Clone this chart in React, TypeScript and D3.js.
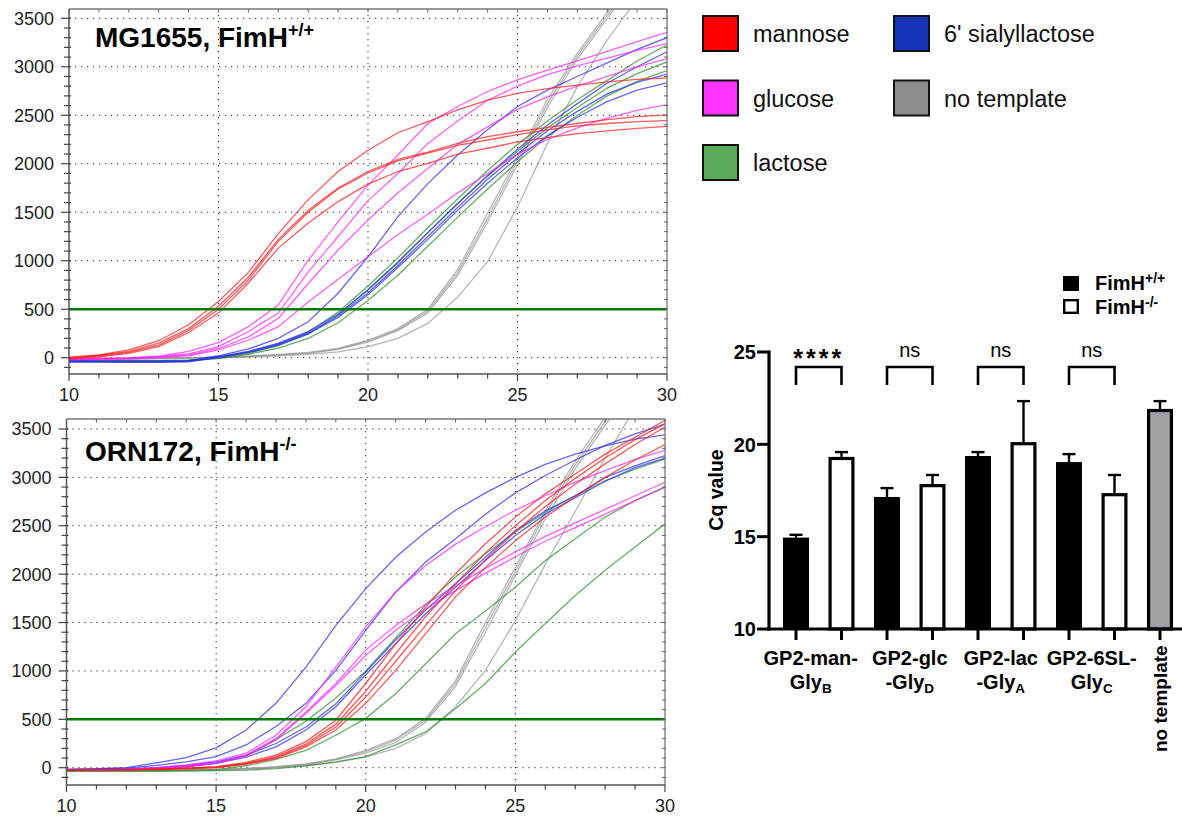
import React from "react";
import * as d3 from "d3";

// ---------- amplification data (RFU per cycle) ----------
const cycles = [10, 11, 12, 13, 14, 15, 16, 17, 18, 19, 20, 21, 22, 23, 24, 25, 26, 27, 28, 29, 30];
const rfuTicks = [0, 500, 1000, 1500, 2000, 2500, 3000, 3500];
const cycleTicks = [10, 15, 20, 25, 30];
const thresholdRfu = 500;

// MG1655, FimH+/+
const mgMannose = [
  [5, 30, 80, 175, 340, 580, 880, 1280, 1630, 1920, 2140, 2320, 2435, 2555, 2655, 2725, 2775, 2810, 2845, 2870, 2885],
  [0, 25, 65, 150, 300, 530, 830, 1220, 1520, 1750, 1920, 2045, 2120, 2210, 2280, 2330, 2375, 2415, 2455, 2485, 2505],
  [-10, 20, 55, 130, 280, 500, 800, 1200, 1500, 1740, 1905, 2030, 2110, 2190, 2245, 2300, 2350, 2390, 2415, 2435, 2445],
  [-15, 10, 45, 115, 260, 460, 770, 1130, 1390, 1610, 1790, 1920, 2005, 2100, 2160, 2225, 2270, 2310, 2340, 2365, 2385],
];
const mgGlucose = [
  [-10, -5, 0, 15, 65, 155, 320, 545, 1005, 1400, 1780, 2090, 2415, 2590, 2745, 2865, 2965, 3060, 3160, 3260, 3355],
  [-15, -10, -5, 10, 40, 115, 270, 460, 885, 1250, 1620, 1900, 2210, 2440, 2655, 2800, 2920, 3010, 3090, 3170, 3240],
  [-20, -15, -10, 5, 30, 95, 215, 405, 765, 1110, 1420, 1700, 1950, 2200, 2380, 2560, 2690, 2800, 2900, 3000, 3085],
  [-20, -15, -10, 0, 20, 80, 180, 320, 575, 810, 1040, 1270, 1480, 1700, 1900, 2100, 2250, 2370, 2470, 2550, 2610],
];
const mgSialyl = [
  [-30, -35, -35, -35, -30, 20, 90, 200, 370, 665, 1040, 1455, 1795, 2090, 2350, 2590, 2760, 2900, 3040, 3180, 3300],
  [-40, -40, -40, -40, -35, 10, 65, 150, 270, 450, 700, 980, 1290, 1590, 1880, 2150, 2400, 2620, 2830, 3000, 3155],
  [-40, -40, -45, -45, -40, 5, 60, 140, 255, 430, 670, 950, 1250, 1550, 1840, 2100, 2340, 2540, 2720, 2840, 2925],
  [-45, -45, -45, -45, -40, 0, 55, 130, 245, 415, 650, 930, 1220, 1520, 1800, 2060, 2290, 2480, 2640, 2760, 2835],
];
const mgLactose = [
  [-30, -30, -30, -30, -25, 0, 50, 140, 265, 470, 740, 1030, 1340, 1640, 1930, 2200, 2440, 2660, 2860, 3060, 3225],
  [-30, -30, -30, -30, -25, -5, 45, 125, 245, 440, 700, 990, 1290, 1590, 1870, 2130, 2370, 2580, 2780, 2930, 3050],
  [-35, -35, -35, -35, -30, -10, 35, 100, 200, 360, 590, 850, 1150, 1450, 1740, 2020, 2280, 2500, 2700, 2850, 2960],
];
const mgNoTemplate = [
  [-20, -15, -10, -5, 0, 5, 15, 35, 55, 95, 180, 300, 500, 910, 1490, 2070, 2660, 3140, 3560, 3950, 4300],
  [-20, -15, -10, -5, 0, 5, 15, 30, 50, 90, 170, 290, 480, 880, 1440, 2030, 2620, 3110, 3530, 3930, 4280],
  [-25, -20, -15, -10, -5, 0, 10, 25, 45, 85, 160, 280, 460, 850, 1400, 1990, 2580, 3080, 3500, 3900, 4250],
  [-25, -20, -15, -10, -5, 0, 5, 20, 35, 60, 113, 200, 354, 625, 990, 1555, 2210, 2795, 3275, 3700, 4050],
];

// ORN172, FimH-/-
const ornMannose = [
  [-20, -20, -20, -15, -5, 10, 55, 130, 270, 490, 870, 1280, 1660, 2005, 2315, 2590, 2830, 3035, 3240, 3415, 3590],
  [-20, -20, -20, -15, -5, 5, 45, 115, 245, 450, 790, 1180, 1560, 1900, 2220, 2500, 2760, 2990, 3200, 3390, 3555],
  [-25, -25, -20, -15, -10, 0, 40, 105, 230, 420, 730, 1100, 1470, 1830, 2150, 2440, 2700, 2930, 3140, 3340, 3520],
  [-25, -25, -25, -20, -10, 0, 35, 95, 215, 390, 665, 1005, 1385, 1765, 2070, 2345, 2590, 2800, 3000, 3180, 3340],
];
const ornGlucose = [
  [-20, -20, -15, 0, 30, 70, 150, 335, 630, 1040, 1455, 1815, 2090, 2310, 2490, 2660, 2810, 2950, 3070, 3185, 3280],
  [-25, -25, -20, -10, 15, 50, 130, 300, 575, 870, 1215, 1470, 1690, 1880, 2060, 2230, 2390, 2530, 2670, 2810, 2950],
  [-25, -25, -20, -10, 10, 45, 120, 290, 560, 850, 1160, 1420, 1640, 1830, 2010, 2180, 2340, 2480, 2620, 2760, 2895],
];
const ornSialyl = [
  [-15, -10, 0, 50, 105, 205, 390, 665, 1040, 1470, 1850, 2175, 2435, 2660, 2840, 3000, 3135, 3240, 3325, 3395, 3440],
  [-20, -15, -5, 25, 60, 115, 235, 425, 665, 1005, 1420, 1815, 2125, 2365, 2620, 2840, 3020, 3180, 3330, 3450, 3550],
  [-25, -20, -15, 0, 25, 60, 130, 250, 420, 660, 990, 1320, 1630, 1900, 2175, 2450, 2655, 2810, 3000, 3120, 3225],
  [-25, -20, -15, -5, 15, 45, 110, 215, 390, 630, 960, 1280, 1590, 1865, 2140, 2400, 2620, 2790, 2960, 3100, 3200],
];
const ornLactose = [
  [-30, -30, -25, -15, 10, 50, 125, 290, 480, 720, 1000, 1340, 1680, 1970, 2210, 2435, 2640, 2810, 2965, 3085, 3190],
  [-30, -30, -30, -30, -25, -20, 20, 85, 180, 335, 510, 765, 1075, 1385, 1620, 1865, 2140, 2365, 2590, 2760, 2905],
  [-35, -35, -35, -35, -35, -30, -25, -10, 20, 60, 115, 235, 370, 610, 870, 1195, 1490, 1780, 2040, 2280, 2520],
];
const ornNoTemplate = [
  [-30, -30, -30, -30, -25, -20, -10, 10, 40, 90, 180, 300, 510, 900, 1500, 2070, 2655, 3170, 3620, 4000, 4350],
  [-30, -30, -30, -30, -25, -20, -10, 5, 35, 85, 165, 285, 490, 870, 1450, 2030, 2620, 3130, 3580, 3970, 4300],
  [-30, -30, -30, -30, -25, -20, -10, 5, 30, 80, 150, 260, 470, 840, 1400, 1990, 2570, 3090, 3540, 3940, 4270],
  [-35, -35, -35, -35, -30, -25, -15, 0, 20, 55, 110, 200, 350, 630, 1005, 1520, 2100, 2650, 3200, 3720, 4150],
];

// ---------- legend ----------
const legendLabels = ["mannose", "glucose", "lactose", "6' sialyllactose", "no template"];
const legendSwatch = ["#ff0000", "#ff33ff", "#5aab5a", "#1733b8", "#8c8c8c"];
const curveColors = ["#ff1a1a", "#ff22ff", "#2e922e", "#2a2aff", "#9a9a9a"];

// ---------- Cq bar data ----------
const groupLine1 = ["GP2-man-", "GP2-glc", "GP2-lac", "GP2-6SL-"];
const groupLine2 = ["Gly", "-Gly", "-Gly", "Gly"];
const groupSub = ["B", "D", "A", "C"];
const cqFimHPos = [14.95, 17.15, 19.37, 19.04];
const cqFimHPosSd = [0.15, 0.48, 0.21, 0.43];
const cqFimHNeg = [19.32, 17.85, 20.12, 17.36];
const cqFimHNegSd = [0.26, 0.49, 2.22, 0.98];
const cqNoTemplate = 21.92;
const cqNoTemplateSd = 0.42;
const significance = ["****", "ns", "ns", "ns"];
const cqTicks = [10, 15, 20, 25];

const FONT = "'Liberation Sans', Arial, Helvetica, sans-serif";

type PlotProps = {
  left: number; right: number; top: number; bottom: number;
  zeroY: number; topTickY: number;
  title: string; sup: string; titleX: number; titleY: number;
  groups: number[][][]; clipId: string;
};

function AmpPlot(p: PlotProps) {
  const x = d3.scaleLinear().domain([10, 30]).range([p.left, p.right]);
  const y = d3.scaleLinear().domain([0, 3500]).range([p.zeroY, p.topTickY]);
  const line = d3.line<number>().x((_, i) => x(cycles[i])).y((d) => y(d));
  const minorY = d3.range(-100, 3501, 100);
  const minorX = d3.range(10, 31, 1);
  // drawing order: no template, lactose, sialyllactose, glucose, mannose
  const order = [4, 2, 3, 1, 0];
  return (
    <g fontFamily={FONT}>
      <defs>
        <clipPath id={p.clipId}>
          <rect x={p.left} y={p.top} width={p.right - p.left} height={p.bottom - p.top} />
        </clipPath>
      </defs>
      {/* dotted grid */}
      {rfuTicks.map((t) => (
        <line key={"h" + t} x1={p.left} x2={p.right} y1={y(t)} y2={y(t)}
          stroke="#222" strokeWidth={1} strokeDasharray="1.2,4.8" />
      ))}
      {[15, 20, 25].map((t) => (
        <line key={"v" + t} x1={x(t)} x2={x(t)} y1={p.top} y2={p.bottom}
          stroke="#222" strokeWidth={1} strokeDasharray="1.2,4.8" />
      ))}
      {/* curves */}
      <g clipPath={`url(#${p.clipId})`} fill="none">
        {order.map((gi) =>
          p.groups[gi].map((c, k) => (
            <path key={gi + "-" + k} d={line(c) || ""} stroke={curveColors[gi]}
              strokeWidth={1.3} strokeOpacity={0.72} />
          ))
        )}
      </g>
      {/* threshold */}
      <line x1={p.left} x2={p.right} y1={y(thresholdRfu)} y2={y(thresholdRfu)}
        stroke="#007a00" strokeWidth={2.6} />
      {/* frame */}
      <line x1={p.left} x2={p.right} y1={p.top} y2={p.top} stroke="#777" strokeWidth={1.3} />
      <line x1={p.right} x2={p.right} y1={p.top} y2={p.bottom} stroke="#777" strokeWidth={1.3} />
      <line x1={p.left} x2={p.left} y1={p.top} y2={p.bottom} stroke="#555" strokeWidth={1.5} />
      <line x1={p.left} x2={p.right} y1={p.bottom} y2={p.bottom} stroke="#555" strokeWidth={1.5} />
      {/* y ticks */}
      {minorY.map((v) => {
        const major = v % 500 === 0;
        return (
          <g key={"yt" + v}>
            <line x1={p.left - (major ? 8 : 5)} x2={p.left + 2} y1={y(v)} y2={y(v)} stroke="#444" strokeWidth={1.2} />
            <line x1={p.right - 3} x2={p.right + 1} y1={y(v)} y2={y(v)} stroke="#666" strokeWidth={1} />
          </g>
        );
      })}
      {/* x ticks */}
      {minorX.map((c) => {
        const major = c % 5 === 0;
        return (
          <g key={"xt" + c}>
            <line x1={x(c)} x2={x(c)} y1={p.bottom} y2={p.bottom + (major ? 7 : 4.5)} stroke="#444" strokeWidth={1.2} />
            <line x1={x(c)} x2={x(c)} y1={p.top} y2={p.top + 3.5} stroke="#666" strokeWidth={1} />
          </g>
        );
      })}
      {rfuTicks.map((t) => (
        <text key={"yl" + t} x={p.left - 15} y={y(t)} dy="0.36em" textAnchor="end"
          fontSize={18} fill="#222">{t}</text>
      ))}
      {cycleTicks.map((t) => (
        <text key={"xl" + t} x={x(t)} y={p.bottom + 27} textAnchor="middle"
          fontSize={18} fill="#222">{t}</text>
      ))}
      <text x={p.titleX} y={p.titleY} fontSize={28} fontWeight="bold" fill="#000">
        {p.title}
        <tspan fontSize={18} dy={-11}>{p.sup}</tspan>
      </text>
    </g>
  );
}

function Legend() {
  const rows = [0, 1, 2];
  return (
    <g fontFamily={FONT}>
      {legendLabels.map((lab, i) => {
        const col = i < 3 ? 0 : 1;
        const row = i < 3 ? rows[i] : rows[i - 3];
        const sx = col === 0 ? 703 : 894;
        const sy = 16 + row * 64.5;
        return (
          <g key={lab}>
            <rect x={sx} y={sy} width={35} height={35} fill={legendSwatch[i]} stroke="#111" strokeWidth={2} />
            <text x={sx + 50} y={sy + 26} fontSize={23.5} fill="#111">{lab}</text>
          </g>
        );
      })}
    </g>
  );
}

function CqBars() {
  const nBars = groupLine1.length * 2 + 1;
  const xB = d3.scalePoint<number>().domain(d3.range(nBars)).range([796, 1160]);
  const yB = d3.scaleLinear().domain([10, 25]).range([629, 352]);
  const axisY = yB(10);
  const bars = [
    ...groupLine1.flatMap((_, g) => [
      { i: 2 * g, mean: cqFimHPos[g], sd: cqFimHPosSd[g], kind: "pos" },
      { i: 2 * g + 1, mean: cqFimHNeg[g], sd: cqFimHNegSd[g], kind: "neg" },
    ]),
    { i: nBars - 1, mean: cqNoTemplate, sd: cqNoTemplateSd, kind: "ntc" },
  ];
  const bw = 26;
  return (
    <g fontFamily={FONT} fontWeight="bold" fill="#000">
      {/* error bars */}
      {bars.map((b) => {
        const cx = xB(b.i)!;
        return (
          <g key={"e" + b.i} stroke="#000" strokeWidth={2.4}>
            <line x1={cx} x2={cx} y1={yB(b.mean)} y2={yB(b.mean + b.sd)} />
            <line x1={cx - 6.5} x2={cx + 6.5} y1={yB(b.mean + b.sd)} y2={yB(b.mean + b.sd)} />
          </g>
        );
      })}
      {/* bars */}
      {bars.map((b) => {
        const cx = xB(b.i)!;
        if (b.kind === "pos")
          return <rect key={"b" + b.i} x={cx - bw / 2} y={yB(b.mean)} width={bw} height={axisY - yB(b.mean)} fill="#000" />;
        return (
          <rect key={"b" + b.i} x={cx - bw / 2 + 1.6} y={yB(b.mean) + 1.6} width={bw - 3.2}
            height={axisY - yB(b.mean) - 1.6} fill={b.kind === "neg" ? "#fff" : "#a2a2a6"}
            stroke="#000" strokeWidth={3.2} />
        );
      })}
      {/* axes */}
      <line x1={769} x2={769} y1={yB(25) - 1.5} y2={axisY + 1.5} stroke="#000" strokeWidth={3.2} />
      <line x1={767.5} x2={1182} y1={axisY} y2={axisY} stroke="#000" strokeWidth={3.2} />
      {cqTicks.map((t) => (
        <g key={"ct" + t}>
          <line x1={757} x2={769} y1={yB(t)} y2={yB(t)} stroke="#000" strokeWidth={3} />
          <text x={756} y={yB(t)} dy="0.36em" textAnchor="end" fontSize={20}>{t}</text>
        </g>
      ))}
      {bars.map((b) => (
        <line key={"xt" + b.i} x1={xB(b.i)!} x2={xB(b.i)!} y1={axisY} y2={axisY + 11} stroke="#000" strokeWidth={3} />
      ))}
      <text transform="translate(723,490) rotate(-90)" textAnchor="middle" fontSize={19.5}>Cq value</text>
      {/* group labels; the first two-line label sits a little left of its pair */}
      {groupLine1.map((l1, g) => {
        const cx = (xB(2 * g)! + xB(2 * g + 1)!) / 2 - (g === 0 ? 8 : 0);
        return (
          <g key={"gl" + g}>
            <text x={cx} y={665} textAnchor="middle" fontSize={20}>{l1}</text>
            <text x={cx} y={689} textAnchor="middle" fontSize={20}>
              {groupLine2[g]}
              <tspan fontSize={13.5} dy={4}>{groupSub[g]}</tspan>
            </text>
          </g>
        );
      })}
      <text transform={`translate(${xB(nBars - 1)! + 7},752) rotate(-90)`} textAnchor="start" fontSize={19}>no template</text>
      {/* significance brackets */}
      {significance.map((s, g) => {
        const x1 = xB(2 * g)!;
        const x2 = xB(2 * g + 1)!;
        return (
          <g key={"s" + g}>
            <path d={`M${x1},385 V367 H${x2} V385`} fill="none" stroke="#000" strokeWidth={2.6} />
            {s === "ns" ? (
              <text x={(x1 + x2) / 2} y={357} textAnchor="middle" fontSize={20} fontWeight="normal">{s}</text>
            ) : (
              <text x={(x1 + x2) / 2} y={367} textAnchor="middle" fontSize={25} letterSpacing={3}>{s}</text>
            )}
          </g>
        );
      })}
      {/* strain legend */}
      <rect x={1063} y={276} width={16} height={15} fill="#000" />
      <text x={1095} y={290} fontSize={20}>FimH<tspan fontSize={14} dy={-7}>+/+</tspan></text>
      <rect x={1064.2} y={300.2} width={13.6} height={12.6} fill="#fff" stroke="#000" strokeWidth={2.4} />
      <text x={1095} y={314} fontSize={20}>FimH<tspan fontSize={14} dy={-7}>-/-</tspan></text>
    </g>
  );
}

export default function App() {
  const mgGroups = [mgMannose, mgGlucose, mgLactose, mgSialyl, mgNoTemplate];
  const ornGroups = [ornMannose, ornGlucose, ornLactose, ornSialyl, ornNoTemplate];
  return (
    <svg width={1182} height={817} viewBox="0 0 1182 817"
      style={{ position: "absolute", left: 0, top: 0, background: "#fff" }}>
      <rect x={0} y={0} width={1182} height={817} fill="#fff" />
      <AmpPlot left={69} right={667} top={9} bottom={374} zeroY={357.7} topTickY={18.3}
        title="MG1655, FimH" sup="+/+" titleX={95} titleY={47} groups={mgGroups} clipId="clipMg" />
      <AmpPlot left={66.5} right={665} top={419} bottom={785} zeroY={767.7} topTickY={429}
        title="ORN172, FimH" sup="-/-" titleX={85} titleY={461} groups={ornGroups} clipId="clipOrn" />
      <Legend />
      <CqBars />
    </svg>
  );
}
